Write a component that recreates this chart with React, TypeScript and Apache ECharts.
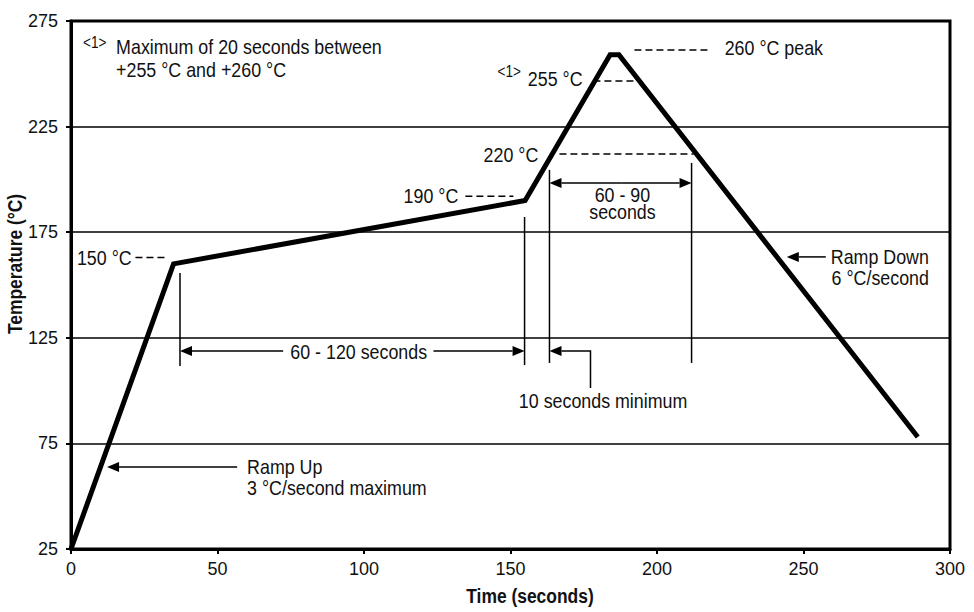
import React, { useEffect, useRef } from "react";
import * as echarts from "echarts";

// Reflow profile (time in seconds, temperature in °C)
const profileTime = [0, 35, 155, 184, 187, 289];
const profileTemp = [25, 160, 190, 259, 259, 78];

// Axis ranges
const xMin = 0, xMax = 300, xStep = 50;
const yMin = 25, yMax = 275, yStep = 50;

// Dashed leader lines [x1, y1, x2, y2] in data units
const dashedLeaders = [
  [22, 163, 32, 163],
  [134.6, 192, 151, 192],
  [178.3, 246.6, 192.7, 246.6],
  [192.3, 261.3, 218.3, 261.3],
  [166.7, 212, 212.5, 212],
];

// Solid vertical markers [x, yTop, yBottom]
const verticalMarkers = [
  [163.3, 204.5, 113.1],
  [211.8, 207.8, 113.1],
  [154.8, 182.2, 112.1],
  [37.2, 155.7, 111.6],
];

// Arrows: list of points (tail ... head) in data units
const arrows = [
  [[188, 198.3], [163.3, 198.3]],
  [[188, 198.3], [211.8, 198.3]],
  [[72.4, 118.75], [37.2, 118.75]],
  [[123.7, 118.75], [154.8, 118.75]],
  [[177.3, 101.2], [177.3, 118.75], [163.3, 118.75]],
  [[56.7, 63.8], [12.3, 63.8]],
  [[257.6, 163.3], [244.3, 163.3]],
];

// Labels: [text, x, y, align, fontSize, lineHeight]
const labels: [string, number, number, string, number, number][] = [
  ["150 °C", 20.7, 163, "right", 21, 21],
  ["190 °C", 132.2, 192.3, "right", 21, 21],
  ["<1>", 145.6, 251.2, "left", 16, 16],
  ["255 °C", 174.6, 248, "right", 21, 21],
  ["260 °C peak", 223.1, 262.7, "left", 21, 21],
  ["220 °C", 159.5, 212, "right", 21, 21],
  ["60 - 90\nseconds", 188.2, 188.8, "center", 21, 17],
  ["60 - 120 seconds", 98.2, 118.75, "center", 21, 21],
  ["10 seconds minimum", 181.6, 95.5, "center", 21, 21],
  ["Ramp Up\n3 °C/second maximum", 60.1, 59.35, "left", 21, 21],
  ["Ramp Down\n6 °C/second", 292.8, 158.75, "right", 21, 21],
  ["<1>", 4.1, 265, "left", 16, 16],
  ["Maximum of 20 seconds between\n+255 °C and +260 °C", 15.4, 257.5, "left", 21, 24],
];

const FONT = "'Liberation Sans', Arial, Helvetica, sans-serif";
const NARROW = 0.85;
const INK = "#111";

export default function App() {
  const ref = useRef<HTMLDivElement>(null);

  useEffect(() => {
    if (!ref.current) return;
    const chart = echarts.init(ref.current, undefined, { renderer: "svg" });
    chart.setOption({
      animation: false,
      backgroundColor: "#fff",
      grid: {
        left: 71,
        right: 24,
        top: 21,
        bottom: 63,
        show: true,
        borderColor: "#000",
        borderWidth: 3,
      },
      xAxis: {
        type: "value",
        min: xMin,
        max: xMax,
        interval: xStep,
        axisLine: { lineStyle: { color: "#000", width: 3 } },
        axisTick: { length: 5, lineStyle: { color: "#000", width: 2 } },
        axisLabel: { fontSize: 18, color: INK, fontFamily: FONT, margin: 11 },
        splitLine: { show: false },
      },
      yAxis: {
        type: "value",
        min: yMin,
        max: yMax,
        interval: yStep,
        axisLine: { show: true, lineStyle: { color: "#000", width: 3 } },
        axisTick: { show: true, length: 5, lineStyle: { color: "#000", width: 2 } },
        axisLabel: { fontSize: 18, color: INK, fontFamily: FONT, margin: 13 },
        splitLine: { show: true, lineStyle: { color: "#000", width: 1.5 } },
      },
      series: [
        {
          type: "line",
          data: profileTime.map((t, i) => [t, profileTemp[i]]),
          symbol: "none",
          lineStyle: { color: "#000", width: 5, join: "miter", cap: "butt" },
          z: 5,
        },
      ],
    });

    const P = (x: number, y: number) =>
      chart.convertToPixel({ gridIndex: 0 }, [x, y]) as number[];

    const els: any[] = [];
    dashedLeaders.forEach(([x1, y1, x2, y2]) => {
      const a = P(x1, y1), b = P(x2, y2);
      els.push({
        type: "line",
        shape: { x1: a[0], y1: a[1], x2: b[0], y2: b[1] },
        style: { stroke: "#000", lineWidth: 1.5, lineDash: [7, 4] },
      });
    });
    verticalMarkers.forEach(([x, yt, yb]) => {
      const a = P(x, yt), b = P(x, yb);
      els.push({
        type: "line",
        shape: { x1: a[0], y1: a[1], x2: b[0], y2: b[1] },
        style: { stroke: "#000", lineWidth: 1.5 },
      });
    });
    arrows.forEach((pts) => {
      const px = pts.map(([x, y]) => P(x, y));
      const head = px[px.length - 1];
      const prev = px[px.length - 2];
      const dx = head[0] - prev[0], dy = head[1] - prev[1];
      const len = Math.hypot(dx, dy) || 1;
      const ux = dx / len, uy = dy / len;
      const L = 12, W = 5;
      const base = [head[0] - ux * L, head[1] - uy * L];
      const linePts = px.slice(0, -1).concat([base]);
      els.push({
        type: "polyline",
        shape: { points: linePts },
        style: { stroke: "#000", lineWidth: 1.5, fill: "none" },
      });
      els.push({
        type: "polygon",
        shape: {
          points: [
            head,
            [base[0] - uy * W, base[1] + ux * W],
            [base[0] + uy * W, base[1] - ux * W],
          ],
        },
        style: { fill: "#000" },
      });
    });
    labels.forEach(([text, x, y, align, size, lh]) => {
      const p = P(x, y);
      els.push({
        type: "text",
        x: p[0],
        y: p[1],
        scaleX: NARROW,
        style: {
          text,
          fill: INK,
          fontFamily: FONT,
          fontSize: size,
          lineHeight: lh,
          align,
          verticalAlign: "middle",
        },
      });
    });
    // Axis titles
    els.push({
      type: "text",
      x: 15,
      y: 264,
      rotation: Math.PI / 2,
      scaleX: 0.83,
      style: {
        text: "Temperature (°C)",
        fill: INK,
        fontFamily: FONT,
        fontWeight: "bold",
        fontSize: 21,
        align: "center",
        verticalAlign: "middle",
      },
    });
    els.push({
      type: "text",
      x: 530,
      y: 596,
      scaleX: 0.83,
      style: {
        text: "Time (seconds)",
        fill: INK,
        fontFamily: FONT,
        fontWeight: "bold",
        fontSize: 21,
        align: "center",
        verticalAlign: "middle",
      },
    });

    chart.setOption({ graphic: { elements: els } });

    return () => chart.dispose();
  }, []);

  return <div ref={ref} style={{ width: 974, height: 612, position: "absolute", left: 0, top: 0 }} />;
}
